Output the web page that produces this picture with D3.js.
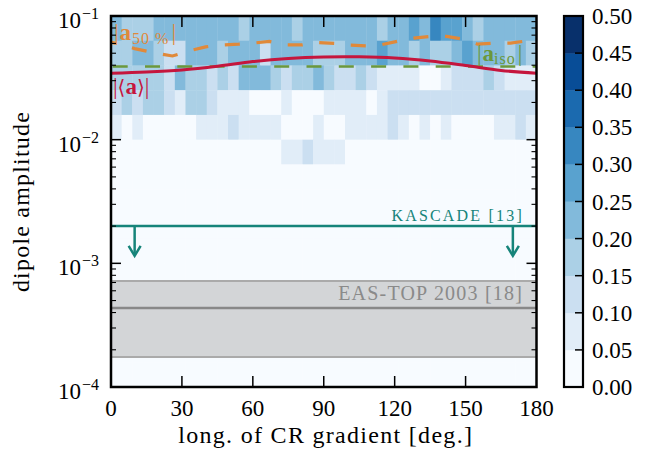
<!DOCTYPE html>
<html>
<head>
<meta charset="utf-8">
<script src="https://cdnjs.cloudflare.com/ajax/libs/d3/7.8.5/d3.min.js"></script>
<style>
body { margin: 0; background: #fff; }
svg text { font-family: "Liberation Serif", "Times New Roman", serif; }
</style>
</head>
<body>
<svg id="chart"></svg>
<script>
const width = 651;
const height = 455;

// plot box
const x0 = 111, x1 = 536.5, y0 = 16, y1 = 387;

// heat map: 40 longitude bins (4.5 deg), 15 amplitude bins (0.2 dex, top row first)
// each digit is the colour class, i.e. fraction in [0.05*k, 0.05*(k+1))
const lonBinWidth = 4.5;
const logBinWidth = 0.2;
const cellRows = [
    "4333444444 4434444344 4444434454 6554344444",
    "3344322444 3444244443 3344454434 3345444343",
    "3333324332 3244432334 3223211110 0122232111",
    "2323321332 1110001000 1111012222 2222222222",
    "1010000011 1211110001 0011112101 0100001121",
    "0000000000 0000001121 1100000000 0000000000",
    "0000000000 0000000000 0000000000 0000000000",
    "0000000000 0000000000 0000000000 0000000000",
    "0000000000 0000000000 0000000000 0000000000",
    "0000000000 0000000000 0000000000 0000000000",
    "0000000000 0000000000 0000000000 0000000000",
    "0000000000 0000000000 0000000000 0000000000",
    "0000000000 0000000000 0000000000 0000000000",
    "0000000000 0000000000 0000000000 0000000000",
    "0000000000 0000000000 0000000000 0000000000"
];

// mean dipole |<a>|
const meanLon = [0, 15, 30, 45, 60, 75, 90, 105, 120, 135, 150, 165, 180];
const meanAmp = [0.0344, 0.0352, 0.0366, 0.0392, 0.0428, 0.0454, 0.0467, 0.0468, 0.0458, 0.0433, 0.0398, 0.0363, 0.0344];

// |a_50%|
const medLon = [0, 5, 10, 15, 20, 26, 33, 40, 45, 54, 60, 67, 74, 81, 87, 95, 101, 108, 114, 122, 128, 135, 142, 149, 155, 162, 169, 176, 180];
const medAmp = [0.0615, 0.0580, 0.0545, 0.0520, 0.0497, 0.0475, 0.0522, 0.0563, 0.0581, 0.0592, 0.0603, 0.0623, 0.0584, 0.0584, 0.0611,
                0.0600, 0.0581, 0.0573, 0.0584, 0.0630, 0.0662, 0.0684, 0.0684, 0.0650, 0.0592, 0.0603, 0.0603, 0.0630, 0.0630];

// |a_iso|
const isoAmp = 0.039;

// experiments
const kascadeLimit = 2e-3;
const kascadeArrowLon = [10, 170];
const kascadeArrowTip = 1.15e-3;
const eastop = { value: 4.35e-4, low: 1.75e-4, high: 7.2e-4 };

const xTicks = [0, 30, 60, 90, 120, 150, 180];
const cbTicks = [0, 0.05, 0.10, 0.15, 0.20, 0.25, 0.30, 0.35, 0.40, 0.45, 0.50];

const svg = d3.select("#chart")
    .attr("width", width)
    .attr("height", height);

const x = d3.scaleLinear().domain([0, 180]).range([x0, x1]);
const y = d3.scaleLog().domain([1e-4, 1e-1]).range([y1, y0]);

// matplotlib-like Blues (linear between the brewer stops), 10 classes
const blues = d3.piecewise(d3.interpolateRgb, d3.schemeBlues[9]);
const levels = d3.range(10).map(i => blues(i / 9));
const color = d3.scaleQuantize().domain([0, 0.5]).range(levels);

// cells
const cells = [];
cellRows.forEach((row, r) => {
    const digits = row.replace(/ /g, "");
    for (let c = 0; c < digits.length; c++) {
        cells.push({
            lon0: c * lonBinWidth,
            lon1: (c + 1) * lonBinWidth,
            amp1: Math.pow(10, -1 - r * logBinWidth),
            amp0: Math.pow(10, -1 - (r + 1) * logBinWidth),
            frac: (+digits[c]) * 0.05 + 0.025
        });
    }
});

svg.append("g")
    .selectAll("rect")
    .data(cells)
    .join("rect")
    .attr("x", d => x(d.lon0))
    .attr("y", d => y(d.amp1))
    .attr("width", d => x(d.lon1) - x(d.lon0) + 0.4)
    .attr("height", d => y(d.amp0) - y(d.amp1) + 0.4)
    .attr("fill", d => color(d.frac));

// EAS-TOP band
svg.append("rect")
    .attr("x", x0)
    .attr("y", y(eastop.high))
    .attr("width", x1 - x0)
    .attr("height", y(eastop.low) - y(eastop.high))
    .attr("fill", "#d3d5d7");
[eastop.low, eastop.high].forEach(v => {
    svg.append("line")
        .attr("x1", x0).attr("x2", x1)
        .attr("y1", y(v)).attr("y2", y(v))
        .attr("stroke", "#aaaaaa")
        .attr("stroke-width", 2);
});
svg.append("line")
    .attr("x1", x0).attr("x2", x1)
    .attr("y1", y(eastop.value)).attr("y2", y(eastop.value))
    .attr("stroke", "#888888")
    .attr("stroke-width", 2.5);
svg.append("text")
    .attr("x", 523)
    .attr("y", 300)
    .attr("text-anchor", "end")
    .attr("font-size", 20)
    .attr("letter-spacing", 1.2)
    .attr("fill", "#8a8a8a")
    .text("EAS-TOP 2003 [18]");

// KASCADE upper limit
const teal = "#16847a";
svg.append("line")
    .attr("x1", x0).attr("x2", x1)
    .attr("y1", y(kascadeLimit)).attr("y2", y(kascadeLimit))
    .attr("stroke", teal)
    .attr("stroke-width", 2.5);
kascadeArrowLon.forEach(lon => {
    const ax = x(lon), tip = y(kascadeArrowTip);
    svg.append("line")
        .attr("x1", ax).attr("x2", ax)
        .attr("y1", y(kascadeLimit)).attr("y2", tip - 1)
        .attr("stroke", teal)
        .attr("stroke-width", 2.5);
    svg.append("path")
        .attr("d", `M${ax - 6},${tip - 10}L${ax},${tip}L${ax + 6},${tip - 10}`)
        .attr("fill", "none")
        .attr("stroke", teal)
        .attr("stroke-width", 2.5)
        .attr("stroke-linejoin", "miter");
});
svg.append("text")
    .attr("x", 524)
    .attr("y", 221)
    .attr("text-anchor", "end")
    .attr("font-size", 16)
    .attr("letter-spacing", 2.2)
    .attr("fill", teal)
    .text("KASCADE [13]");

// amplitude curves
const line = d3.line()
    .x(d => x(d[0]))
    .y(d => y(d[1]));

svg.append("line")
    .attr("x1", x0).attr("x2", x1)
    .attr("y1", y(isoAmp)).attr("y2", y(isoAmp))
    .attr("stroke", "#6b983c")
    .attr("stroke-width", 2.6)
    .attr("stroke-dasharray", "15,17.3")
    .attr("stroke-dashoffset", 30.6);

svg.append("path")
    .datum(meanLon.map((l, i) => [l, meanAmp[i]]))
    .attr("d", line.curve(d3.curveCatmullRom))
    .attr("fill", "none")
    .attr("stroke", "#c5163d")
    .attr("stroke-width", 3);

svg.append("path")
    .datum(medLon.map((l, i) => [l, medAmp[i]]))
    .attr("d", line.curve(d3.curveLinear))
    .attr("fill", "none")
    .attr("stroke", "#e0893a")
    .attr("stroke-width", 3.2)
    .attr("stroke-dasharray", "15,16.7")
    .attr("stroke-dashoffset", 10);

// curve labels
const lab50 = svg.append("text")
    .attr("x", 114).attr("y", 40)
    .attr("font-size", 23)
    .attr("fill", "#e0893a");
lab50.append("tspan").text("|");
lab50.append("tspan").attr("font-weight", "bold").attr("dx", 1).text("a");
lab50.append("tspan").attr("font-size", 16).attr("dy", 4).attr("dx", 1).attr("letter-spacing", 1).text("50 %");
lab50.append("tspan").attr("dy", -4).attr("dx", 2).text("|");

const labMean = svg.append("text")
    .attr("x", 113).attr("y", 94)
    .attr("font-size", 23)
    .attr("fill", "#c5163d");
labMean.append("tspan").text("|");
labMean.append("tspan").attr("font-family", "DejaVu Serif").attr("font-size", 20).text("\u27e8");
labMean.append("tspan").attr("font-weight", "bold").text("a");
labMean.append("tspan").attr("font-family", "DejaVu Serif").attr("font-size", 20).text("\u27e9");
labMean.append("tspan").text("|");

const labIso = svg.append("text")
    .attr("x", 477).attr("y", 61)
    .attr("font-size", 23)
    .attr("fill", "#6b983c");
labIso.append("tspan").text("|");
labIso.append("tspan").attr("font-weight", "bold").attr("dx", 1).text("a");
labIso.append("tspan").attr("font-size", 16).attr("dy", 3).attr("letter-spacing", 1).text("iso");
labIso.append("tspan").attr("dy", -3).attr("dx", 2).text("|");

// frame
svg.append("rect")
    .attr("x", x0).attr("y", y0)
    .attr("width", x1 - x0).attr("height", y1 - y0)
    .attr("fill", "none")
    .attr("stroke", "#000")
    .attr("stroke-width", 2.5);

// ticks
const tickG = svg.append("g").attr("stroke", "#000");
xTicks.forEach(t => {
    if (t === 0 || t === 180) return;
    tickG.append("line").attr("x1", x(t)).attr("x2", x(t)).attr("y1", y1).attr("y2", y1 - 11).attr("stroke-width", 1.5);
    tickG.append("line").attr("x1", x(t)).attr("x2", x(t)).attr("y1", y0).attr("y2", y0 + 11).attr("stroke-width", 1.5);
});
y.ticks().forEach(t => {
    const major = Math.abs(Math.log10(t) - Math.round(Math.log10(t))) < 1e-6;
    if (t === 1e-4 || t === 1e-1) return;
    const len = major ? 10 : 5;
    const sw = major ? 1.5 : 1.1;
    tickG.append("line").attr("x1", x0).attr("x2", x0 + len).attr("y1", y(t)).attr("y2", y(t)).attr("stroke-width", sw);
    tickG.append("line").attr("x1", x1).attr("x2", x1 - len).attr("y1", y(t)).attr("y2", y(t)).attr("stroke-width", sw);
});

// tick labels
svg.append("g")
    .selectAll("text")
    .data(xTicks)
    .join("text")
    .attr("x", d => x(d))
    .attr("y", 416)
    .attr("text-anchor", "middle")
    .attr("font-size", 23)
    .text(d => d);

const yMajor = [1e-4, 1e-3, 1e-2, 1e-1];
yMajor.forEach(t => {
    const lab = svg.append("text")
        .attr("x", 99)
        .attr("y", y(t) + 12)
        .attr("text-anchor", "end")
        .attr("font-size", 23);
    lab.append("tspan").text("10");
    lab.append("tspan")
        .attr("font-size", 16)
        .attr("dy", -9)
        .attr("dx", 1)
        .text("\u2212" + Math.round(-Math.log10(t)));
});

// axis titles
svg.append("text")
    .attr("x", (x0 + x1) / 2 + 2)
    .attr("y", 443)
    .attr("text-anchor", "middle")
    .attr("font-size", 24)
    .attr("letter-spacing", 1.3)
    .text("long. of CR gradient [deg.]");

svg.append("text")
    .attr("transform", `translate(29,${(y0 + y1) / 2}) rotate(-90)`)
    .attr("text-anchor", "middle")
    .attr("font-size", 24)
    .attr("letter-spacing", 1.2)
    .text("dipole amplitude");

// colour bar
const cbX = 564, cbW = 19;
const cbY = d3.scaleLinear().domain([0, 0.5]).range([y1, y0]);
svg.append("g")
    .selectAll("rect")
    .data(levels)
    .join("rect")
    .attr("x", cbX)
    .attr("y", (d, i) => cbY((i + 1) * 0.05))
    .attr("width", cbW)
    .attr("height", (d, i) => cbY(i * 0.05) - cbY((i + 1) * 0.05) + 0.3)
    .attr("fill", d => d);
svg.append("rect")
    .attr("x", cbX).attr("y", y0)
    .attr("width", cbW).attr("height", y1 - y0)
    .attr("fill", "none")
    .attr("stroke", "#000")
    .attr("stroke-width", 2.2);
cbTicks.forEach(t => {
    if (t > 0 && t < 0.5) {
        svg.append("line")
            .attr("x1", cbX + cbW).attr("x2", cbX + cbW - 8)
            .attr("y1", cbY(t)).attr("y2", cbY(t))
            .attr("stroke", "#000")
            .attr("stroke-width", 1.5);
    }
    svg.append("text")
        .attr("x", 592)
        .attr("y", cbY(t) + 8)
        .attr("font-size", 23)
        .text(t.toFixed(2));
});
</script>
</body>
</html>
